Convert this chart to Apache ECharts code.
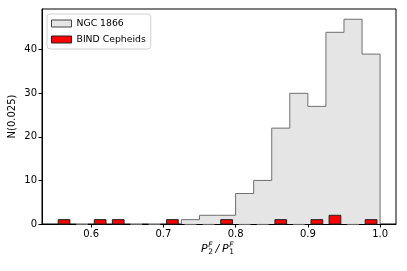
<!DOCTYPE html>
<html><head><meta charset="utf-8">
<script src="https://cdn.jsdelivr.net/npm/echarts@6/dist/echarts.min.js"></script>
<style>html,body{margin:0;padding:0;background:#fff}#c{width:407px;height:271px}</style>
</head><body><div id="c"></div>
<script>
// NGC 1866 histogram (bin width 0.025)
const ngcBinStart = [0.725, 0.75, 0.775, 0.8, 0.825, 0.85, 0.875, 0.9, 0.925, 0.95, 0.975];
const ngcCounts   = [1, 2, 2, 7, 10, 22, 30, 27, 44, 47, 39];
const binWidth = 0.025;
// BIND Cepheids histogram (bin centers)
const bindCenters = [0.5625,0.5875,0.6125,0.6375,0.6625,0.6875,0.7125,0.7375,0.7625,0.7875,0.8125,0.8375,0.8625,0.8875,0.9125,0.9375,0.9625,0.9875];
const bindCounts  = [1,0,1,1,0,0,1,0,0,1,0,0,1,0,1,2,0,1];
const xTicks = [0.6, 0.7, 0.8, 0.9, 1.0];
const yTicks = [0, 10, 20, 30, 40];

const stepData = [[ngcBinStart[0], 0]];
ngcBinStart.forEach((x, i) => stepData.push([x, ngcCounts[i]]));
const lastEdge = ngcBinStart[ngcBinStart.length - 1] + binWidth;
stepData.push([lastEdge, ngcCounts[ngcCounts.length - 1]]);
stepData.push([lastEdge, 0]);

const font = 'DejaVu Sans';
const chart = echarts.init(document.getElementById('c'), null, {renderer: 'canvas'});
function t(txt, x, y, f) {
  return {type: 'text', x: x, y: y, z: 10, style: {text: txt, font: f, fill: '#000', textVerticalAlign: 'middle'}};
}
chart.setOption({
  animation: false,
  textStyle: {fontFamily: font},
  grid: {left: 42, right: 11, top: 9, bottom: 47, containLabel: false, outerBoundsMode: 'none',
         show: true, borderColor: '#000', borderWidth: 1, backgroundColor: 'transparent'},
  legend: {
    left: 47, top: 14, orient: 'vertical', padding: [5, 5, 5, 4],
    itemWidth: 20, itemHeight: 7, itemGap: 7,
    backgroundColor: '#fff', borderColor: '#d0d0d0', borderWidth: 1, borderRadius: 3,
    textStyle: {fontFamily: font, fontSize: 9.3, color: '#000'},
    data: [
      {name: 'NGC 1866', icon: 'rect', itemStyle: {color: '#e5e5e5', borderColor: '#444', borderWidth: 1}},
      {name: 'BIND Cepheids', icon: 'rect', itemStyle: {color: '#ff0000', borderColor: '#222', borderWidth: 1}}
    ]
  },
  xAxis: {
    type: 'value', min: 0.532, max: 1.022,
    splitLine: {show: false},
    axisLine: {show: true, lineStyle: {color: '#000', width: 1}},
    axisTick: {show: true, length: 3.5, lineStyle: {color: '#000'}, customValues: xTicks},
    axisLabel: {customValues: xTicks, fontFamily: font, fontSize: 10, color: '#000', margin: 5, formatter: v => v.toFixed(1)}
  },
  yAxis: {
    type: 'value', min: 0, max: 49.35,
    name: 'N(0.025)', nameLocation: 'middle', nameGap: 25, nameMoveOverlap: false,
    nameTextStyle: {fontFamily: font, fontSize: 10, color: '#000'},
    splitLine: {show: false},
    axisLine: {show: true, lineStyle: {color: '#000', width: 1}},
    axisTick: {show: true, length: 3.5, lineStyle: {color: '#000'}, customValues: yTicks},
    axisLabel: {customValues: yTicks, fontFamily: font, fontSize: 10, color: '#000', margin: 5}
  },
  graphic: [
    t('P', 201, 249.5, 'italic 11px DejaVu Sans'),
    t('F', 208.3, 245.5, 'italic 7.5px DejaVu Sans'),
    t('2', 208.3, 252.5, '7.5px DejaVu Sans'),
    t('/', 215.5, 249.5, 'italic 11px DejaVu Sans'),
    t('P', 222, 249.5, 'italic 11px DejaVu Sans'),
    t('F', 229.3, 245.5, 'italic 7.5px DejaVu Sans'),
    t('1', 229.3, 252.5, '7.5px DejaVu Sans')
  ],
  series: [
    {
      name: 'NGC 1866', type: 'line', step: 'end', data: stepData,
      symbol: 'none', silent: true, z: 1,
      lineStyle: {color: '#707070', width: 1},
      itemStyle: {color: '#e5e5e5'},
      areaStyle: {color: '#e5e5e5', opacity: 1}
    },
    {
      name: 'BIND Cepheids', type: 'custom', z: 5,
      itemStyle: {color: '#ff0000'},
      data: bindCenters.map((c, i) => [c, bindCounts[i]]),
      renderItem: function (params, api) {
        const c = api.value(0), v = api.value(1);
        const hw = binWidth * 0.65 / 2;
        const p0 = api.coord([c - hw, v]);
        const p1 = api.coord([c + hw, 0]);
        if (v === 0) {
          return {type: 'line', shape: {x1: p0[0], y1: p1[1], x2: p1[0], y2: p1[1]}, style: {stroke: '#cfcfcf', lineWidth: 1}};
        }
        return {type: 'rect', shape: {x: p0[0], y: p0[1], width: p1[0] - p0[0], height: p1[1] - p0[1]},
          style: {fill: '#ff0000', stroke: '#222', lineWidth: 1}};
      }
    }
  ]
});
</script></body></html>
